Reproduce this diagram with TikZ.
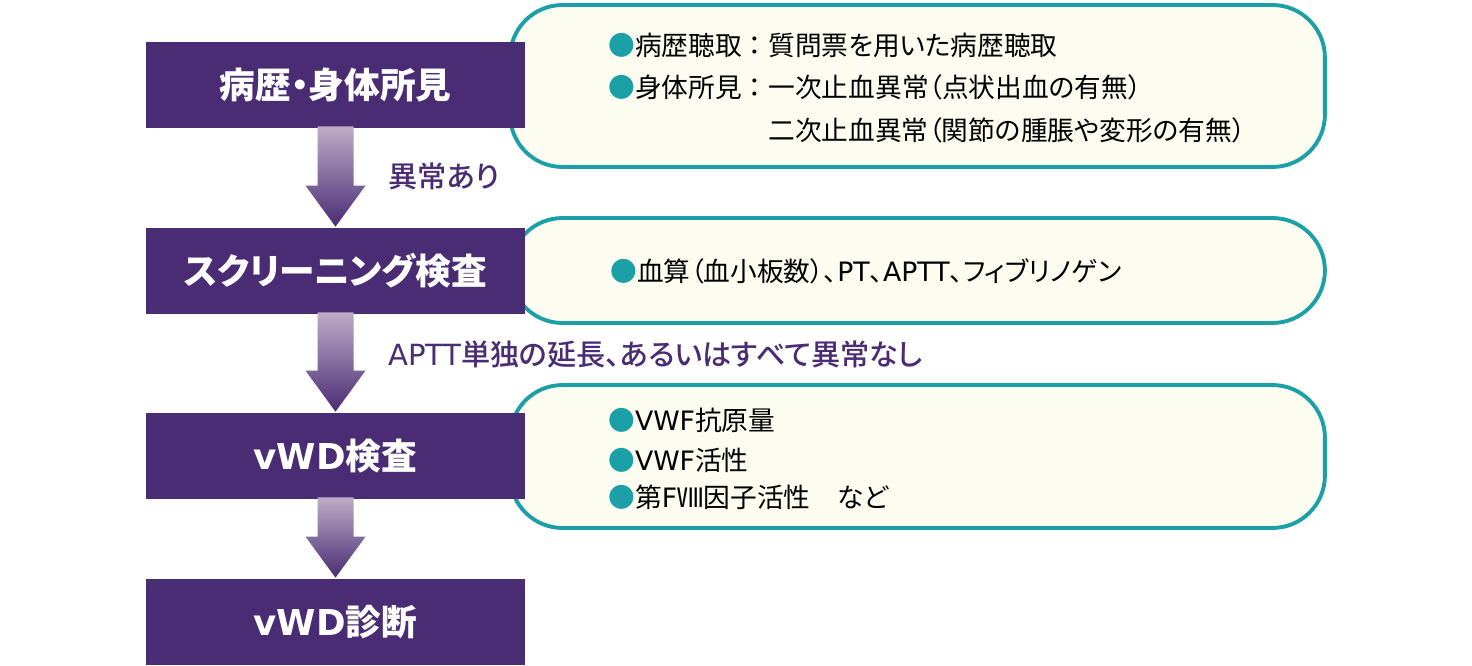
\documentclass[tikz,border=0pt]{standalone}
\usepackage{fontspec}
\setmainfont{Noto Sans CJK JP}[RawFeature=+palt]
\newfontfamily\midfont{Noto Sans CJK JP Medium}[RawFeature=+palt]
\newfontfamily\fullwidth{Noto Sans CJK JP}
\newfontfamily\latin{DejaVu Sans}
\usetikzlibrary{calc}

\definecolor{boxpurple}{RGB}{74,44,116}
\definecolor{arrowtop}{RGB}{190,172,200}
\definecolor{rimteal}{RGB}{26,160,166}
\definecolor{notefill}{RGB}{252,252,240}

\tikzset{
  stepbox/.style={fill=boxpurple, text=white, minimum width=7.58cm, minimum height=1.72cm,
    inner sep=0pt, font=\fontsize{20.3}{24}\selectfont\bfseries},
  notebox/.style={draw=rimteal, line width=2.2pt, fill=notefill, rounded corners=1.05cm,
    minimum width=16.3cm, inner sep=0pt},
  noteline/.style={anchor=west, inner sep=0pt, font=\fontsize{15.2}{18}\selectfont},
  arrowlabel/.style={anchor=west, inner sep=0pt, text=boxpurple, font=\fontsize{16.6}{19}\selectfont\midfont}
}

\newcommand{\tealdot}{{\color{rimteal}●}}
\newcommand{\lat}[1]{{\latin #1}}
\newcommand{\fwcolon}{{\fullwidth ：}}
% shaded down arrow between two boxes
\newcommand{\flowarrow}[2]{
  \shade[top color=arrowtop, bottom color=boxpurple]
    ($(#1.south)+(-18,-2)$) -- ($(#1.south)+(18,-2)$) -- ($(#2.north)+(18,-42)$)
    -- ($(#2.north)+(30,-42)$) -- ($(#2.north)+(0,-1)$) -- ($(#2.north)+(-30,-42)$)
    -- ($(#2.north)+(-18,-42)$) -- cycle;
}

\begin{document}
\begin{tikzpicture}[x=0.02cm, y=-0.02cm]
    \useasboundingbox (0,0) rectangle (1472,666);

    % Note boxes on the right
    \node[notebox, minimum height=3.24cm] (histnote) at (917.5,86) {};
    \node[notebox, minimum height=2.1cm] (screennote) at (917.5,270.5) {};
    \node[notebox, minimum height=2.86cm] (vwdnote) at (917.5,456.5) {};

    % Steps
    \node[stepbox] (history) at (335.5,85) {病歴・身体所見};
    \node[stepbox] (screening) at (335.5,271) {スクリーニング検査};
    \node[stepbox] (vwdtest) at (335.5,456) {\lat{vWD}検査};
    \node[stepbox] (diagnosis) at (335.5,622) {\lat{vWD}診断};

    % Arrows
    \flowarrow{history}{screening}
    \flowarrow{screening}{vwdtest}
    \flowarrow{vwdtest}{diagnosis}

    % Arrow labels
    \node[arrowlabel] (abnormal) at (388,176) {異常あり};
    \node[arrowlabel] (apttonly) at (388,354) {\lat{APTT}単独の延長、あるいはすべて異常なし};

    % Note texts
    \node[noteline] (hist1) at (608,45) {\tealdot 病歴聴取\fwcolon 質問票を用いた病歴聴取};
    \node[noteline] (hist2) at (608,87) {\tealdot 身体所見\fwcolon 一次止血異常（点状出血の有無）};
    \node[noteline] (hist3) at (768,130) {二次止血異常（関節の腫脹や変形の有無）};
    \node[noteline] (screen1) at (610,271) {\tealdot 血算（血小板数）、\lat{PT}、\lat{APTT}、フィブリノゲン};
    \node[noteline] (vwd1) at (608,420) {\tealdot \lat{VWF}抗原量};
    \node[noteline] (vwd2) at (608,460) {\tealdot \lat{VWF}活性};
    \node[noteline] (vwd3) at (608,497) {\tealdot 第\lat{F}Ⅷ因子活性　など};
\end{tikzpicture}
\end{document}
